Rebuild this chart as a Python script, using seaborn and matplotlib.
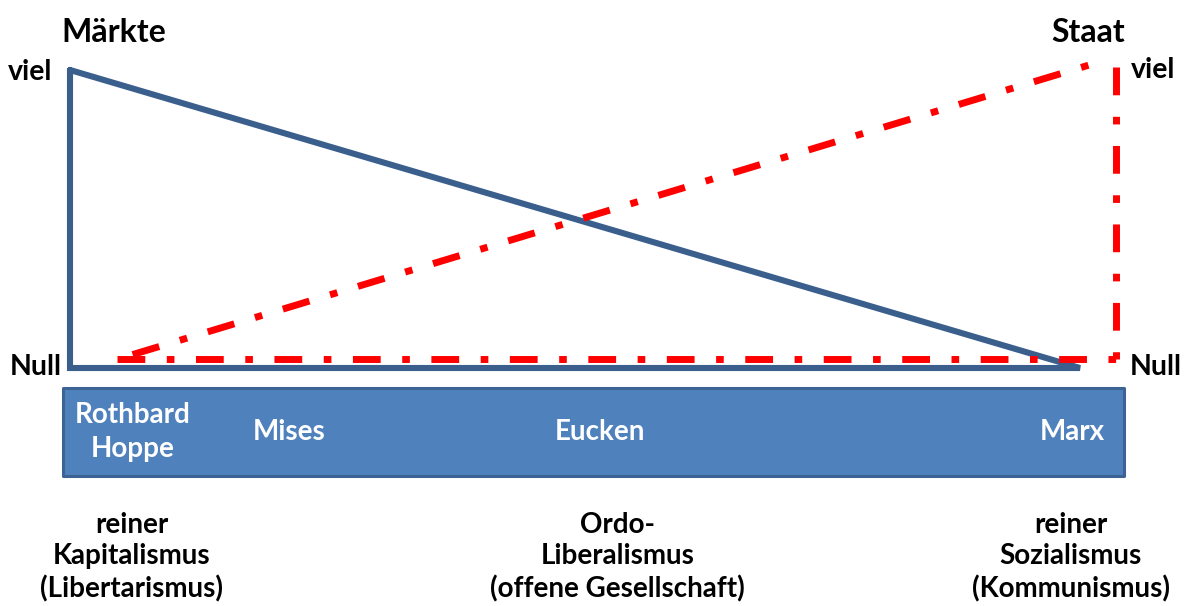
import matplotlib
matplotlib.use("Agg")
import matplotlib.pyplot as plt
import seaborn as sns
import pandas as pd
from matplotlib.patches import Rectangle

sns.set_theme(style="white")
plt.rcParams['font.family'] = ['Lato', 'DejaVu Sans']

# ---- data (position 0..1000 along the spectrum, amount 0 = Null .. 100 = viel)
markt_x = [0, 0, 1000, 0]
markt_y = [100, 0, 0, 100]
staat_diag_x = [62, 1022]
staat_diag_y = [4.5, 103]
staat_base_x = [47, 1036]
staat_base_y = [3, 3]
staat_vert_x = [1036, 1036]
staat_vert_y = [101, 3]

box_labels = ["Rothbard\nHoppe", "Mises", "Eucken", "Marx"]
box_pos = [62, 217, 525, 992]
bottom_labels = ["reiner\nKapitalismus\n(Libertarismus)",
                 "Ordo-\nLiberalismus\n(offene Gesellschaft)",
                 "reiner\nSozialismus\n(Kommunismus)"]
bottom_pos = [61, 542, 991]

W, H = 1190, 606
fig = plt.figure(figsize=(W / 100, H / 100), dpi=100)
ax = fig.add_axes([0, 0, 1, 1])
sx, sy = 1.01, 2.98
x0, y0 = 70, 368
ax.set_xlim(-x0 / sx, (W - x0) / sx)
ax.set_ylim((y0 - H) / sy, y0 / sy)
ax.axis("off")

blue = "#3A5F8C"
red = "#FF0000"
dash = (0, (4, 3.1, 1.1, 3.1))

sns.lineplot(x=markt_x, y=markt_y, sort=False, estimator=None, ax=ax,
             color=blue, linewidth=4.4, solid_joinstyle="miter",
             solid_capstyle="round")
for xs, ys in [(staat_diag_x, staat_diag_y), (staat_base_x, staat_base_y),
               (staat_vert_x, staat_vert_y)]:
    sns.lineplot(x=xs, y=ys, sort=False, estimator=None, ax=ax, color=red,
                 linewidth=5.0, linestyle=dash, dash_capstyle="butt")

# blue box
bx0, bx1 = (63 - x0) / sx, (1124 - x0) / sx
by0, by1 = (y0 - 476) / sy, (y0 - 388) / sy
ax.add_patch(Rectangle((bx0, by0), bx1 - bx0, by1 - by0, facecolor="#4F81BD",
                       edgecolor="#3C6394", linewidth=2.2, joinstyle="round",
                       zorder=1))

def px(x, y):
    return x / W, 1 - y / H

tk = dict(fontweight="bold", color="black")
fig.text(*px(114, 32), "Märkte", ha="center", va="center", fontsize=23, **tk)
fig.text(*px(1088, 32), "Staat", ha="center", va="center", fontsize=23, **tk)
fig.text(*px(30, 72), "viel", ha="center", va="center", fontsize=20.5, **tk)
fig.text(*px(1153, 70), "viel", ha="center", va="center", fontsize=20.5, **tk)
fig.text(*px(36, 367), "Null", ha="center", va="center", fontsize=20.5, **tk)
fig.text(*px(1156, 367), "Null", ha="center", va="center", fontsize=20.5, **tk)

for lab, p in zip(box_labels, box_pos):
    ax.text(p, (y0 - 432) / sy, lab, ha="center", va="center", fontsize=20,
            fontweight="bold", color="white", linespacing=1.42, zorder=3)

for lab, p in zip(bottom_labels, bottom_pos):
    ax.text(p, (y0 - 557) / sy, lab, ha="center", va="center", fontsize=20,
            fontweight="bold", color="black", linespacing=1.26)

fig.savefig("out.png", dpi=100)
